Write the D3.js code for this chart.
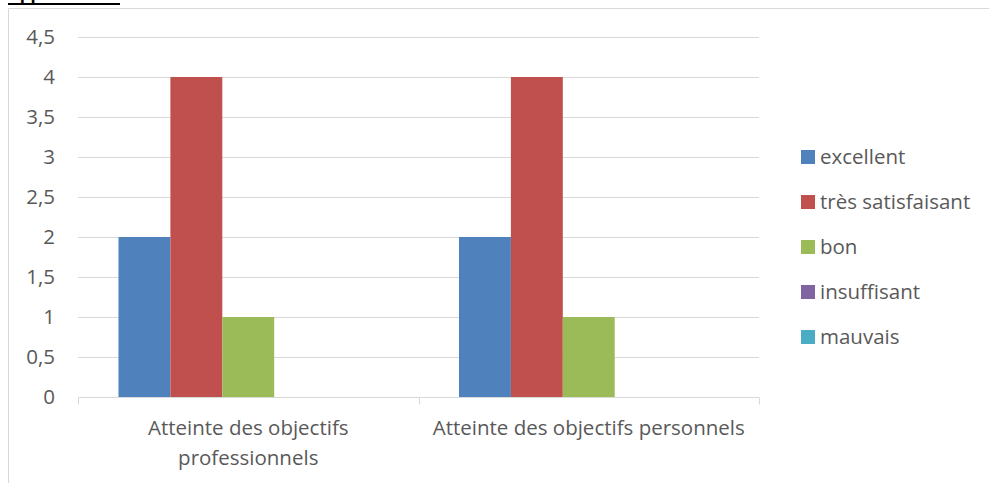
<!DOCTYPE html>
<html>
<head>
<meta charset="utf-8">
<script src="https://cdn.jsdelivr.net/npm/d3@7"></script>
<style>
  body { margin: 0; background: #fff; }
  svg { display: block; font-family: "Open Sans", "Noto Sans", sans-serif; }
</style>
</head>
<body>
<svg id="chart" width="989" height="483"></svg>
<script>
// data
const categories = ["Atteinte des objectifs professionnels", "Atteinte des objectifs personnels"];
const categoryLines = [["Atteinte des objectifs", "professionnels"], ["Atteinte des objectifs personnels"]];
const series = ["excellent", "très satisfaisant", "bon", "insuffisant", "mauvais"];
const colors = ["#4f81bd", "#c0504d", "#9bbb59", "#8064a2", "#4bacc6"];
const values = [
  [2, 4, 1, 0, 0],
  [2, 4, 1, 0, 0]
];
const yTicks = [0, 0.5, 1, 1.5, 2, 2.5, 3, 3.5, 4, 4.5];

const svg = d3.select("#chart");
const plot = {left: 78, right: 759, top: 37, bottom: 397};
const textColor = "#595959";
const gridColor = "#d9d9d9";
const fontSize = 20.5;

// heading above the chart, cut off by the top edge (only descenders + underline show)
svg.append("text")
  .attr("x", 8).attr("y", 0)
  .attr("font-size", 17).attr("font-weight", "bold")
  .attr("fill", "#000")
  .text("Appréciation");
svg.append("line")
  .attr("x1", 8).attr("x2", 120).attr("y1", 4).attr("y2", 4)
  .attr("stroke", "#000").attr("stroke-width", 2);

// chart area border
svg.append("path")
  .attr("d", "M8.5,490 V8.5 H995")
  .attr("fill", "none").attr("stroke", gridColor).attr("stroke-width", 1);

const y = d3.scaleLinear().domain([0, 4.5]).range([plot.bottom, plot.top]);
const x0 = d3.scaleBand().domain(categories).range([plot.left, plot.right]).padding(0);
const x1 = d3.scaleBand().domain(series).range([0, x0.bandwidth()]).paddingInner(0).paddingOuter(0.78);

// gridlines
svg.append("g").selectAll("line")
  .data(yTicks.filter(d => d > 0))
  .join("line")
  .attr("x1", plot.left).attr("x2", plot.right)
  .attr("y1", d => Math.round(y(d)) + 0.5).attr("y2", d => Math.round(y(d)) + 0.5)
  .attr("stroke", gridColor);

// y labels
svg.append("g").selectAll("text")
  .data(yTicks)
  .join("text")
  .attr("x", 55).attr("y", d => y(d))
  .attr("dy", "0.35em")
  .attr("text-anchor", "end")
  .attr("font-size", fontSize)
  .attr("fill", textColor)
  .text(d => String(d).replace(".", ","));

// bars
const groups = svg.append("g").selectAll("g")
  .data(values)
  .join("g")
  .attr("transform", (d, i) => `translate(${x0(categories[i])},0)`);

groups.selectAll("rect")
  .data(d => d.map((v, j) => ({s: series[j], v, c: colors[j]})))
  .join("rect")
  .attr("x", d => x1(d.s))
  .attr("width", x1.bandwidth())
  .attr("y", d => y(d.v))
  .attr("height", d => plot.bottom - y(d.v))
  .attr("fill", d => d.c);

// x axis line and ticks
const axisY = Math.round(y(0)) + 0.5;
svg.append("line")
  .attr("x1", plot.left).attr("x2", plot.right)
  .attr("y1", axisY).attr("y2", axisY)
  .attr("stroke", gridColor);
const tickXs = categories.map(c => x0(c)).concat([plot.right]);
svg.append("g").selectAll("line")
  .data(tickXs)
  .join("line")
  .attr("x1", d => Math.round(d) + 0.5).attr("x2", d => Math.round(d) + 0.5)
  .attr("y1", axisY).attr("y2", axisY + 7)
  .attr("stroke", gridColor);

// category labels
svg.append("g").selectAll("text")
  .data(categories)
  .join("text")
  .attr("text-anchor", "middle")
  .attr("font-size", fontSize)
  .attr("fill", textColor)
  .each(function(d, i) {
    const t = d3.select(this);
    categoryLines[i].forEach((line, k) => {
      t.append("tspan")
        .attr("x", x0(d) + x0.bandwidth() / 2)
        .attr("y", 428 + k * 30)
        .attr("dy", "0.35em")
        .text(line);
    });
  });

// legend
const legend = svg.append("g").selectAll("g")
  .data(series)
  .join("g")
  .attr("transform", (d, i) => `translate(801,${157 + i * 45})`);
legend.append("rect")
  .attr("x", 0).attr("y", -7).attr("width", 14).attr("height", 14)
  .attr("fill", (d, i) => colors[i]);
legend.append("text")
  .attr("x", 19).attr("y", 0).attr("dy", "0.35em")
  .attr("font-size", fontSize)
  .attr("fill", textColor)
  .text(d => d);
</script>
</body>
</html>
